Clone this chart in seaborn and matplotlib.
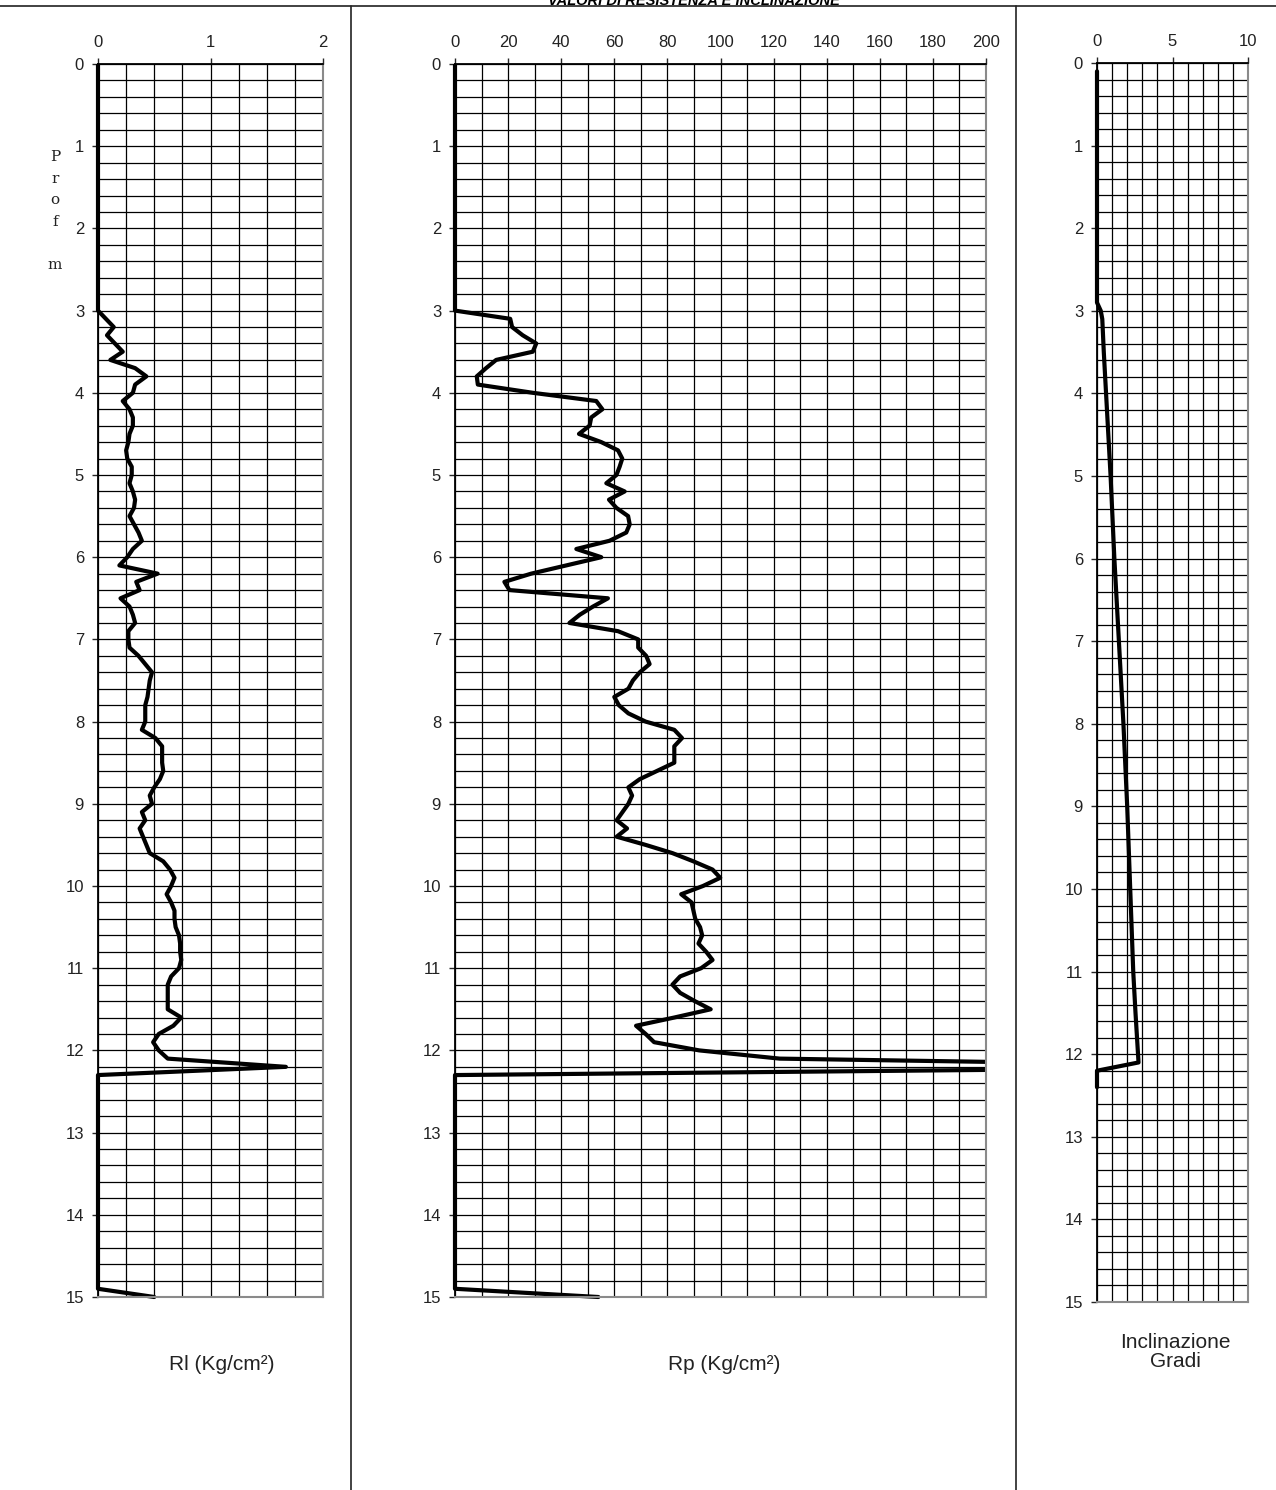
import matplotlib
matplotlib.use('Agg')
import matplotlib.pyplot as plt
from matplotlib.lines import Line2D
from matplotlib.ticker import MultipleLocator
from matplotlib.transforms import Bbox, TransformedBbox
import numpy as np
import pandas as pd
import seaborn as sns

# profondita' di misura (m), passo 10 cm tra 3.0 e 12.3
prof_misure = np.round(np.arange(3.0, 12.31, 0.1), 1)

# resistenza laterale Rl (Kg/cm2) da 3.0 a 12.3 m
rl_misure = [
    0.00, 0.07, 0.14, 0.08, 0.15, 0.22, 0.11, 0.33, 0.43, 0.33,
    0.31, 0.22, 0.28, 0.31, 0.31, 0.28, 0.27, 0.25, 0.26, 0.30,
    0.30, 0.28, 0.31, 0.33, 0.32, 0.28, 0.32, 0.36, 0.39, 0.31,
    0.26, 0.19, 0.53, 0.34, 0.37, 0.20, 0.28, 0.31, 0.33, 0.27,
    0.27, 0.28, 0.36, 0.42, 0.48, 0.46, 0.45, 0.44, 0.42, 0.42,
    0.42, 0.39, 0.51, 0.57, 0.57, 0.57, 0.58, 0.55, 0.50, 0.46,
    0.48, 0.39, 0.42, 0.37, 0.40, 0.43, 0.46, 0.58, 0.64, 0.68,
    0.65, 0.61, 0.65, 0.68, 0.68, 0.69, 0.72, 0.73, 0.73, 0.74,
    0.72, 0.65, 0.62, 0.62, 0.62, 0.62, 0.74, 0.67, 0.54, 0.49,
    0.54, 0.62, 1.67, 0.00,
]

# resistenza alla punta Rp (Kg/cm2) da 3.0 a 12.3 m
rp_misure = [
    0.0, 20.8, 21.5, 25.5, 30.6, 29.3, 15.5, 11.7, 8.2, 8.6,
    29.3, 53.2, 55.5, 51.3, 50.7, 46.7, 55.1, 61.4, 63.0, 62.0,
    60.8, 57.0, 63.9, 58.0, 60.8, 65.2, 65.8, 64.5, 58.2, 45.7,
    55.1, 41.9, 28.7, 18.6, 20.5, 57.6, 52.0, 47.0, 43.1, 61.4,
    69.0, 69.0, 72.0, 73.3, 69.6, 67.0, 65.3, 60.0, 61.7, 65.3,
    71.8, 82.6, 85.5, 82.6, 82.6, 82.6, 76.1, 69.6, 65.3, 66.7,
    65.3, 63.1, 60.9, 64.8, 60.9, 71.8, 81.9, 89.8, 97.0, 99.9,
    93.4, 85.2, 89.1, 89.8, 90.5, 92.3, 93.1, 91.7, 94.6, 97.0,
    92.7, 84.8, 81.9, 84.8, 90.3, 96.3, 82.6, 68.2, 71.8, 75.0,
    92.0, 122.3, 320.0, 0.0,
]

# tratti iniziale e finale
prof_inizio = [0.0]
prof_fine = [14.9, 15.0]
rl_fine = [0.0, 0.5]
rp_fine = [0.0, 54.0]

# inclinazione (gradi)
prof_incl = [0.1, 2.9, 3.0, 3.1, 3.5, 4.0, 5.0, 6.0, 7.0, 8.0, 9.0, 10.0,
             11.0, 11.5, 12.1, 12.2, 12.4]
incl = [0.0, 0.0, 0.25, 0.35, 0.45, 0.6, 0.9, 1.15, 1.45, 1.75, 2.0, 2.2,
        2.4, 2.55, 2.75, 0.0, 0.0]

df_rl = pd.DataFrame({'prof': prof_inizio + list(prof_misure) + prof_fine,
                      'val': [0.0] + rl_misure + rl_fine})
df_rp = pd.DataFrame({'prof': prof_inizio + list(prof_misure) + prof_fine,
                      'val': [0.0] + rp_misure + rp_fine})
df_incl = pd.DataFrame({'prof': prof_incl, 'val': incl})

sns.set_theme(style='white')
plt.rcParams['font.family'] = ['Liberation Sans', 'DejaVu Sans']

W, H = 1276, 1490
fig = plt.figure(figsize=(W / 100, H / 100), dpi=100)


def pannello(rect, df, xmax, passo_major, passo_minor):
    ax = fig.add_axes(rect)
    sns.lineplot(data=df, x='val', y='prof', sort=False, estimator=None,
                 color='black', linewidth=3.0, ax=ax)
    ax.set_xlim(0, xmax)
    ax.set_ylim(15, 0)
    ax.xaxis.set_major_locator(MultipleLocator(passo_major))
    ax.xaxis.set_minor_locator(MultipleLocator(passo_minor))
    ax.yaxis.set_major_locator(MultipleLocator(1))
    ax.yaxis.set_minor_locator(MultipleLocator(0.2))
    ax.xaxis.tick_top()
    ax.grid(which='both', color='black', linewidth=0.9)
    ax.set_axisbelow(True)
    ax.tick_params(which='minor', length=0)
    ax.tick_params(axis='y', which='major', length=4, width=1, direction='out',
                   pad=6, labelsize=12, labelcolor='#222222', left=True)
    ax.tick_params(axis='x', which='major', length=4, width=1, direction='out',
                   pad=6, labelsize=12, labelcolor='#222222', top=True)
    ax.set_xlabel('')
    ax.set_ylabel('')
    for s in ['left', 'top']:
        ax.spines[s].set_color('black')
        ax.spines[s].set_linewidth(1.3)
    for s in ['right', 'bottom']:
        ax.spines[s].set_color('#8a8a8a')
        ax.spines[s].set_linewidth(1.5)
    # lascia visibile tutto lo spessore della curva lungo l'asse sinistro
    box = TransformedBbox(Bbox([[-0.03, -0.006], [1.0, 1.0]]), ax.transAxes)
    for ln in ax.get_lines():
        ln.set_clip_box(box)
    return ax


def rect(x0, x1, y0, y1):
    return [x0 / W, 1 - y1 / H, (x1 - x0) / W, (y1 - y0) / H]


ax1 = pannello(rect(98, 323, 64, 1297), df_rl, 2, 1, 0.25)
ax2 = pannello(rect(455, 986, 64, 1297), df_rp, 200, 20, 10)
ax3 = pannello(rect(1097, 1248, 63, 1302), df_incl, 10, 5, 1)

# etichette assi
fig.text(222 / W, 1 - 1365 / H, 'Rl (Kg/cm²)', ha='center', va='center',
         fontsize=15, color='#222222')
fig.text(724 / W, 1 - 1365 / H, 'Rp (Kg/cm²)', ha='center', va='center',
         fontsize=15, color='#222222')
fig.text(1175 / W, 1 - 1352 / H, 'Inclinazione\nGradi', ha='center',
         va='center', fontsize=15, color='#222222', linespacing=0.95)

# "Prof m" verticale
for i, c in enumerate(['P', 'r', 'o', 'f', '', 'm']):
    fig.text(55 / W, 1 - (157 + i * 21.6) / H, c, ha='center', va='center',
             family='DejaVu Serif', fontsize=11, color='#222222')

# titolo tagliato in alto
fig.text(694 / W, 1 - 5 / H, 'VALORI DI RESISTENZA E INCLINAZIONE',
         ha='center', va='baseline', fontsize=10.5, fontweight='bold',
         style='italic', color='black')

# cornici
fig.add_artist(Line2D([0, 1], [1 - 6 / H, 1 - 6 / H], transform=fig.transFigure,
                      color='#333333', linewidth=1.3))
for xs in [351, 1016]:
    fig.add_artist(Line2D([xs / W, xs / W], [0, 1 - 6 / H],
                          transform=fig.transFigure, color='#222222',
                          linewidth=1.2))

fig.savefig('out.png', dpi=100, facecolor='white')
